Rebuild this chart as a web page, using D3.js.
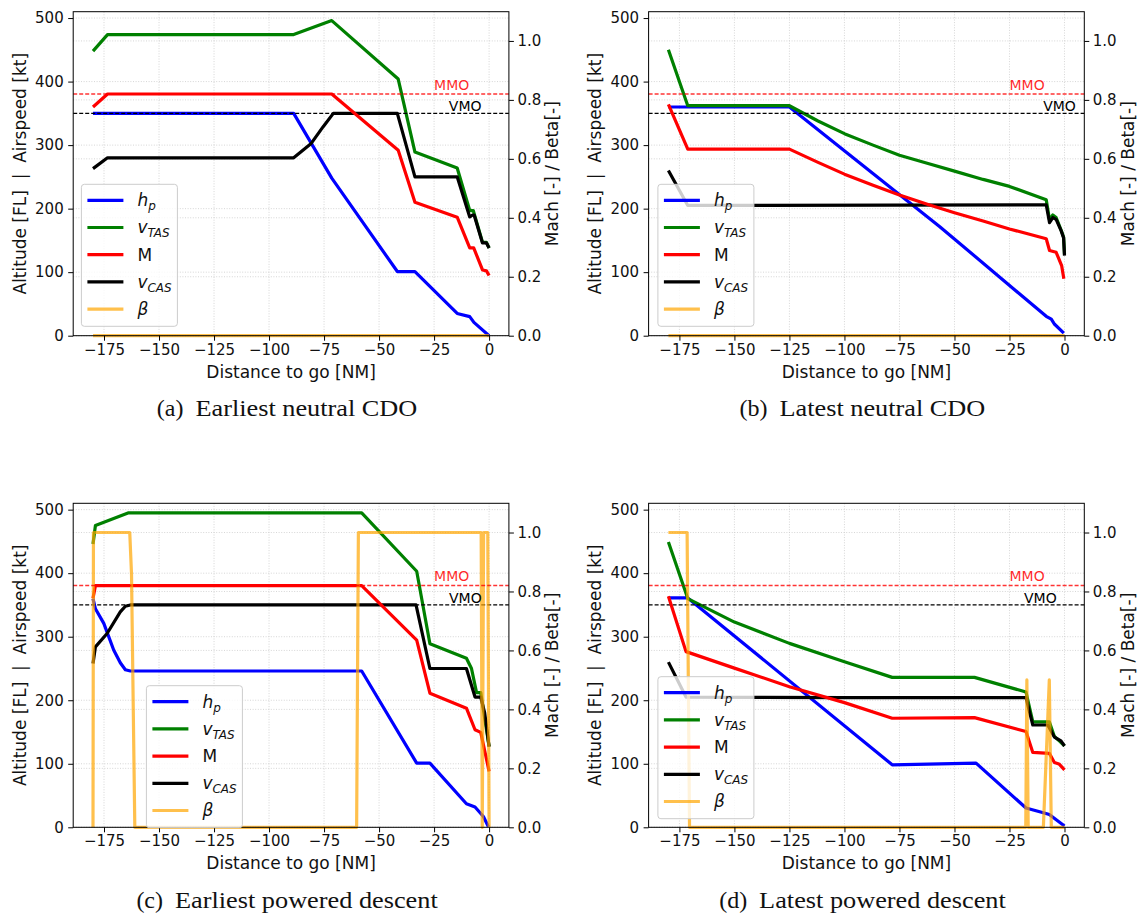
<!DOCTYPE html>
<html>
<head>
<meta charset="utf-8">
<script src="https://cdn.jsdelivr.net/npm/d3@7"></script>
<style>
  body { margin: 0; background: #fff; }
  svg { display: block; font-family: "DejaVu Sans", sans-serif; }
</style>
</head>
<body>
<svg id="fig" width="1139" height="916"></svg>
<script>
// values, as [distance to go (NM), value]
// altitude and airspeeds are on the left axis, Mach and beta on the right one

// (a) earliest neutral CDO
const aHp = [[-180,350],[-88.8,350],[-71.5,248],[-41.7,101],[-33.7,101],[-14.5,35],[-8.8,30],[-6.9,21],[0,0]];
const aTas = [[-180,448],[-173.4,474],[-88.8,474],[-71.5,496],[-41.3,404],[-33.7,289],[-14.5,264],[-8.8,197],[-7.2,197],[-3.0,147],[-1.2,147],[0,138]];
const aCas = [[-180,263],[-173.4,280],[-88.8,280],[-81,302],[-75.4,329],[-70.8,350],[-41.7,350],[-33.7,250],[-14.5,250],[-8.8,187],[-7.5,190],[-6.8,190],[-3.0,146],[-1.2,146],[0,138]];
const aMach = [[-180,0.776],[-173.4,0.82],[-71.5,0.82],[-41.3,0.629],[-33.7,0.453],[-14.5,0.402],[-8.8,0.298],[-7.0,0.298],[-3.0,0.223],[-1.2,0.22],[0,0.204]];
const aBeta = [[-180,0],[0,0]];

// (b) latest neutral CDO
const bHp = [[-180,360],[-125,360],[-56.8,172],[-8.3,30.5],[-6.0,26],[-4.5,18],[-0.3,4]];
const bTas = [[-180,450],[-171.2,362],[-125,362],[-112,338],[-100,318],[-87,300],[-75,284],[-62,271],[-50,259],[-37,246],[-25,235],[-8.3,214],[-6.8,182],[-5.3,190],[-3.8,186],[-1.5,166],[-0.4,155],[0,128]];
const bCas = [[-180,260],[-171.2,205],[-8.3,206],[-6.8,178],[-5.3,186],[-3.8,183],[-1.5,165],[-0.4,154],[0,126]];
const bMach = [[-180,0.785],[-171.2,0.633],[-125,0.633],[-112,0.588],[-100,0.548],[-87,0.51],[-75,0.477],[-62,0.445],[-50,0.417],[-37,0.389],[-25,0.362],[-8.3,0.329],[-6.8,0.289],[-3.8,0.283],[-1.3,0.238],[-0.3,0.193]];
const bBeta = [[-180,0],[0,0]];

// (c) earliest powered descent
const cHp = [[-180,360],[-178.9,344],[-175.1,321],[-170.6,279],[-167.6,259],[-165.3,248],[-163,246],[-57.9,246],[-32.9,101],[-26.9,101],[-10.3,37],[-6.4,32],[-2.6,17],[-0.3,1]];
const cTas = [[-180,446],[-178.9,475],[-163.8,495],[-57.9,495],[-32.9,403],[-26.9,289],[-10.3,266],[-8.0,250],[-5.7,212],[-3.8,212],[0,127]];
const cCas = [[-180,258],[-178.9,284],[-173.6,305],[-167.6,339],[-165.3,348],[-163,350],[-33.2,350],[-26.9,250],[-10.3,250],[-6.4,205],[-3.8,205],[-2,180],[0,127]];
const cMach = [[-180,0.777],[-178.9,0.82],[-57.9,0.82],[-32.9,0.635],[-26.9,0.455],[-10.3,0.404],[-6.4,0.331],[-3.8,0.322],[0,0.19]];
const cBeta = [[-180,0],[-179.8,1],[-163.3,1],[-162.5,0.86],[-161,0],[-60.2,0],[-59.4,1],[-3.6,1],[-3.1,0],[-2.5,1],[-0.6,1],[0,0]];

// (d) latest powered descent
const dHp = [[-180,361],[-171.2,361],[-78.3,98.4],[-40.2,101],[-17.5,30.4],[-9.2,22.5],[-6.9,20],[0,2]];
const dTas = [[-180,449],[-171.2,360],[-150,323],[-125,289.5],[-100,260.6],[-78.3,236],[-40.9,236],[-17.5,213],[-14.4,166],[-6.9,166],[-4.6,143],[-2,135],[0,128]];
const dCas = [[-180,260],[-172,205],[-100,204],[-17.5,204],[-14.4,161],[-7.6,161],[-4.6,142],[-1.6,136],[0,128]];
const dMach = [[-180,0.784],[-172,0.596],[-150,0.54],[-125,0.477],[-100,0.423],[-78.3,0.37],[-40.9,0.372],[-17.5,0.325],[-14.4,0.254],[-6.9,0.251],[-4.6,0.22],[-2.5,0.215],[0,0.195]];
const dBeta = [[-180,1],[-171.5,1],[-170.4,0],[-17.6,0],[-17.1,0.5],[-16.5,0],[-9.6,0],[-6.9,0.5],[-6.0,0],[0,0]];

const xTicks = [-175, -150, -125, -100, -75, -50, -25, 0];
const altTicks = [0, 100, 200, 300, 400, 500];
const machTicks = [0, 0.2, 0.4, 0.6, 0.8, 1.0];
const VMO = 350;     // kt, left axis
const MMO = 0.82;    // Mach, right axis
const captionTags = ["(a)", "(b)", "(c)", "(d)"];
const captionTexts = ["Earliest neutral CDO", "Latest neutral CDO", "Earliest powered descent", "Latest powered descent"];

// layout (pixels)
const panels = [
  { hp: aHp, tas: aTas, cas: aCas, mach: aMach, beta: aBeta, left: 73.2, top: 11.7, legX: 81.4, legY: 184.3, vmoX: -18.3 },
  { hp: bHp, tas: bTas, cas: bCas, mach: bMach, beta: bBeta, left: 648.6, top: 11.7, legX: 657.9, legY: 184.3, vmoX: -9.7 },
  { hp: cHp, tas: cTas, cas: cCas, mach: cMach, beta: cBeta, left: 73.2, top: 503.3, legX: 146.4, legY: 685.7, vmoX: -18.2 },
  { hp: dHp, tas: dTas, cas: dCas, mach: dMach, beta: dBeta, left: 648.6, top: 503.3, legX: 657.9, legY: 676.7, vmoX: -18.4 }
];
const W = 435.7, H = 324;

const svg = d3.select("#fig");

function drawPanel(p, idx) {
  let x = d3.scaleLinear().domain([-189, 9]).range([p.left, p.left + W]);
  let yL = d3.scaleLinear().domain([0, 510]).range([p.top + H, p.top]);
  let yR = d3.scaleLinear().domain([0, 510 / 464]).range([p.top + H, p.top]);
  let bottom = p.top + H, right = p.left + W;

  let g = svg.append("g");

  // grid (x ticks, left ticks and right ticks all get a dotted line)
  let grid = g.append("g").attr("stroke", "#cccccc").attr("stroke-width", 0.8).attr("stroke-dasharray", "1,1.6");
  xTicks.forEach(function (t) {
    grid.append("line").attr("x1", x(t)).attr("x2", x(t)).attr("y1", p.top).attr("y2", bottom);
  });
  altTicks.forEach(function (t) {
    grid.append("line").attr("x1", p.left).attr("x2", right).attr("y1", yL(t)).attr("y2", yL(t));
  });
  machTicks.forEach(function (t) {
    grid.append("line").attr("x1", p.left).attr("x2", right).attr("y1", yR(t)).attr("y2", yR(t));
  });

  let lineL = d3.line().x(d => x(d[0])).y(d => yL(d[1]));
  let lineR = d3.line().x(d => x(d[0])).y(d => yR(d[1]));

  function series(data, gen, color, opacity) {
    g.append("path")
      .attr("d", gen(data))
      .attr("fill", "none")
      .attr("stroke", color)
      .attr("stroke-opacity", opacity)
      .attr("stroke-width", 3.2)
      .attr("stroke-linejoin", "round")
      .attr("stroke-linecap", "butt");
  }

  series(p.hp, lineL, "#0000ff", 1);
  series(p.tas, lineL, "#008000", 1);
  series(p.cas, lineL, "#000000", 1);

  // VMO
  g.append("line")
    .attr("x1", p.left).attr("x2", right)
    .attr("y1", yL(VMO)).attr("y2", yL(VMO))
    .attr("stroke", "#000").attr("stroke-width", 1.3).attr("stroke-dasharray", "4,2");

  series(p.mach, lineR, "#ff0000", 1);
  series(p.beta, lineR, "orange", 0.7);

  // MMO
  g.append("line")
    .attr("x1", p.left).attr("x2", right)
    .attr("y1", yR(MMO)).attr("y2", yR(MMO))
    .attr("stroke", "#ff0000").attr("stroke-opacity", 0.8).attr("stroke-width", 1.5).attr("stroke-dasharray", "4,2");

  g.append("text").attr("x", x(-25)).attr("y", yR(MMO) - 4.4)
    .attr("fill", "#ff0000").attr("fill-opacity", 0.85).attr("font-size", "14px").text("MMO");
  g.append("text").attr("x", x(p.vmoX)).attr("y", yL(VMO) - 2.4)
    .attr("fill", "#000").attr("font-size", "14px").text("VMO");

  // frame
  g.append("rect").attr("x", p.left).attr("y", p.top).attr("width", W).attr("height", H)
    .attr("fill", "none").attr("stroke", "#000").attr("stroke-width", 1);

  // axes
  let ax = g.append("g").attr("transform", "translate(0," + bottom + ")")
    .call(d3.axisBottom(x).tickValues(xTicks).tickSize(5).tickPadding(3.5));
  let ay = g.append("g").attr("transform", "translate(" + p.left + ",0)")
    .call(d3.axisLeft(yL).tickValues(altTicks).tickSize(5).tickPadding(4.5));
  let ar = g.append("g").attr("transform", "translate(" + right + ",0)")
    .call(d3.axisRight(yR).tickValues(machTicks).tickFormat(d3.format(".1f")).tickSize(5).tickPadding(3.5));
  [ax, ay, ar].forEach(function (a) {
    a.select(".domain").remove();
    a.selectAll("text").attr("font-size", "15px").attr("font-family", "DejaVu Sans").attr("fill", "#111");
    a.selectAll("line").attr("stroke", "#000");
  });

  // axis titles
  g.append("text")
    .attr("x", p.left + W / 2).attr("y", bottom + 42)
    .attr("text-anchor", "middle").attr("font-size", "17px").attr("fill", "#111")
    .text("Distance to go [NM]");
  g.append("text")
    .attr("transform", "translate(" + (p.left - 47.5) + "," + (p.top + H / 2) + ") rotate(-90)")
    .attr("text-anchor", "middle").attr("font-size", "17px").attr("fill", "#111")
    .attr("xml:space", "preserve")
    .text("Altitude [FL]  |  Airspeed [kt]");
  g.append("text")
    .attr("transform", "translate(" + (right + 49.5) + "," + (p.top + H / 2) + ") rotate(-90)")
    .attr("text-anchor", "middle").attr("font-size", "17px").attr("fill", "#111")
    .text("Mach [-] / Beta[-]");

  // legend
  let lg = g.append("g").attr("transform", "translate(" + p.legX + "," + p.legY + ")");
  lg.append("rect").attr("width", 96).attr("height", 142).attr("rx", 3)
    .attr("fill", "#fff").attr("fill-opacity", 0.8).attr("stroke", "#cccccc").attr("stroke-width", 1);
  let entries = [
    { color: "#0000ff", op: 1, base: "h", sub: "p", italic: true },
    { color: "#008000", op: 1, base: "v", sub: "TAS", italic: true },
    { color: "#ff0000", op: 1, base: "M", sub: "", italic: false },
    { color: "#000000", op: 1, base: "v", sub: "CAS", italic: true },
    { color: "orange", op: 0.7, base: "β", sub: "", italic: true }
  ];
  entries.forEach(function (e, i) {
    let yy = 16 + i * 27.2;
    lg.append("line").attr("x1", 6).attr("x2", 42).attr("y1", yy).attr("y2", yy)
      .attr("stroke", e.color).attr("stroke-opacity", e.op).attr("stroke-width", 3.2);
    let t = lg.append("text").attr("x", 56).attr("y", yy + 6).attr("font-size", "17px").attr("fill", "#111");
    t.append("tspan").attr("font-style", e.italic ? "italic" : "normal").text(e.base);
    if (e.sub) {
      t.append("tspan").attr("font-style", "italic").attr("font-size", "12px").attr("dy", 4).text(e.sub);
    }
  });

  // caption: tag, gap, then the title stretched to the reference's (Palatino-like) width
  let capY = p.top + 404.5;
  let tag = svg.append("text")
    .attr("y", capY)
    .attr("font-family", "Liberation Serif, serif").attr("font-size", "24px").attr("fill", "#111")
    .text(captionTags[idx]);
  let title = svg.append("text")
    .attr("y", capY)
    .attr("font-family", "Liberation Serif, serif").attr("font-size", "24px").attr("fill", "#111")
    .text(captionTexts[idx]);
  let tagW = tag.node().getComputedTextLength();
  let titleW = title.node().getComputedTextLength() * 1.095;
  title.attr("textLength", titleW).attr("lengthAdjust", "spacingAndGlyphs");
  let gap = 12;
  let x0 = p.left + W / 2 - 4 - (tagW + gap + titleW) / 2;
  tag.attr("x", x0);
  title.attr("x", x0 + tagW + gap);
}

panels.forEach(drawPanel);
</script>
</body>
</html>
